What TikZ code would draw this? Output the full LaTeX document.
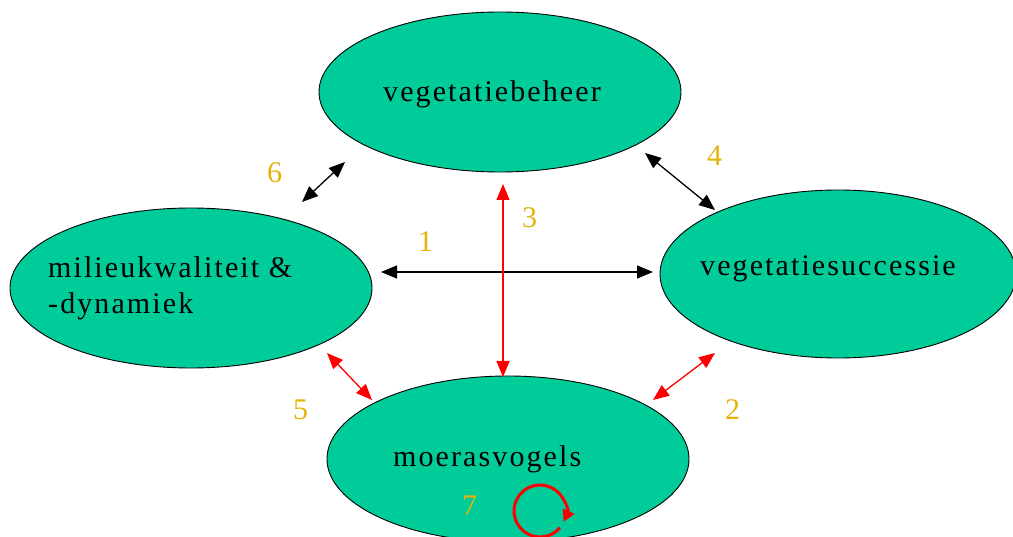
\documentclass[tikz,border=0pt]{standalone}
\usepackage{fontspec}
\setmainfont{Liberation Serif}
\newfontfamily\spacedfont{Liberation Serif}[LetterSpace=7]
\usetikzlibrary{shapes.geometric,arrows.meta}
\definecolor{blobfill}{RGB}{0,204,153}
\definecolor{numcol}{RGB}{228,180,10}
\definecolor{redline}{RGB}{255,0,0}
\tikzset{
  blob/.style={ellipse,draw=black,line width=0.9pt,fill=blobfill,inner sep=0pt,
    minimum width=362pt,minimum height=160pt},
  blobtext/.style={anchor=base west,inner sep=0pt,font=\spacedfont\fontsize{30}{36}\selectfont,align=left},
  numlabel/.style={anchor=base west,inner sep=0pt,text=numcol,font=\fontsize{30}{34}\selectfont},
  blackarrow/.style={draw=black,line width=1.3pt,{Triangle[length=16pt,width=13pt]}-{Triangle[length=16pt,width=13pt]}},
  redarrow/.style={draw=redline,line width=1.3pt,{Triangle[length=16pt,width=13pt]}-{Triangle[length=16pt,width=13pt]}}
}
\begin{document}
\begin{tikzpicture}[x=1pt,y=-1pt]
\useasboundingbox (0,0) rectangle (1013,537);
\fill[white] (0,0) rectangle (1013,537);
% ellipses
\node[blob] (veg) at (500,92) {};
\node[blob] (mil) at (191,288) {};
\node[blob,minimum width=356pt,minimum height=168pt] (suc) at (838,274) {};
\node[blob,minimum height=166pt] (moe) at (508,459) {};
% texts
\node[blobtext] (tveg) at (383,102) {vegetatiebeheer};
\node[blobtext,anchor=north west] (tmil) at (48,256) {milieukwaliteit \&\\-dynamiek};
\node[blobtext] (tsuc) at (700,276) {vegetatiesuccessie};
\node[blobtext] (tmoe) at (393,467) {moerasvogels};
% arrow end points
\coordinate (a6a) at (345,162); \coordinate (a6b) at (302,202);
\coordinate (a4a) at (645,153); \coordinate (a4b) at (715,210);
\coordinate (a1a) at (381,272); \coordinate (a1b) at (653,272);
\coordinate (a3a) at (503,184); \coordinate (a3b) at (503,377);
\coordinate (a5a) at (327,353); \coordinate (a5b) at (372,400);
\coordinate (a2a) at (715,353); \coordinate (a2b) at (653,400);
\draw[blackarrow] (a6a) -- (a6b);
\draw[blackarrow] (a4a) -- (a4b);
\draw[blackarrow] (a1a) -- (a1b);
\draw[redarrow] (a3a) -- (a3b);
\draw[redarrow] (a5a) -- (a5b);
\draw[redarrow] (a2a) -- (a2b);
% self loop
\coordinate (loopc) at (540,511);
\draw[draw=redline,line width=3pt,-{Triangle[length=12pt,width=12pt]}]
  ([shift={(40:26)}]loopc) arc[start angle=40,end angle=385,radius=26];
% number labels
\node[numlabel] (n6) at (267,183) {6};
\node[numlabel] (n4) at (707,166) {4};
\node[numlabel] (n1) at (418,252) {1};
\node[numlabel] (n3) at (522,228) {3};
\node[numlabel] (n5) at (293,420) {5};
\node[numlabel] (n2) at (725,420) {2};
\node[numlabel] (n7) at (462,515) {7};
\end{tikzpicture}
\end{document}
